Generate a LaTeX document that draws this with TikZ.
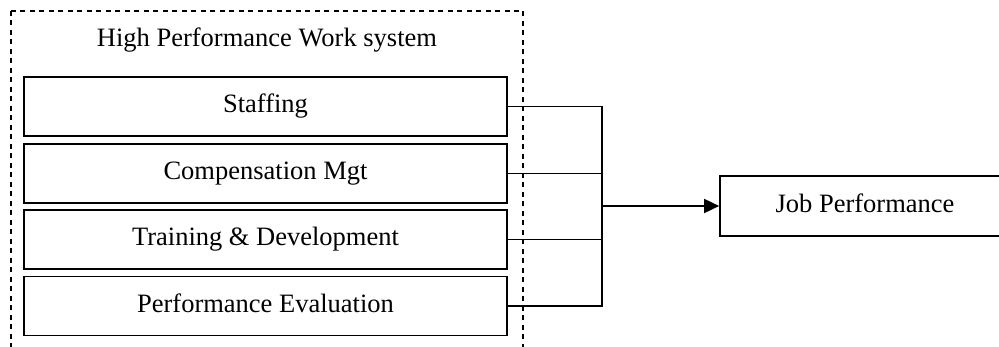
\documentclass[tikz,border=0pt]{standalone}
\usepackage{fontspec}
\setmainfont{Liberation Serif}
\usetikzlibrary{arrows.meta}
\begin{document}
\begin{tikzpicture}[x=1pt,y=-1pt,
  every node/.style={font=\fontsize{26.5pt}{30pt}\selectfont, text height=18.5pt, text depth=5.8pt, inner sep=0pt},
  hbox/.style={draw, line width=1.7pt, minimum width=483pt, minimum height=59pt},
  jbox/.style={draw, line width=1.7pt, minimum width=290pt, minimum height=60pt},
  conn/.style={line width=1.5pt},
  frame/.style={dash pattern=on 5pt off 4.5pt, line width=1.4pt}]
\clip (0,0) rectangle (999,347);
\fill[white] (0,0) rectangle (999,347);
% dashed frame
\draw[frame] (11,11) rectangle (523,380);
\node[anchor=base] (title) at (267,47) {High Performance Work system};
% HPWS boxes
\node[hbox] (s1) at (265.5,106.5) {Staffing};
\node[hbox] (s2) at (265.5,173.5) {Compensation Mgt};
\node[hbox] (s3) at (265.5,239.5) {Training \& Development};
\node[hbox] (s4) at (265.5,306) {Performance Evaluation};
% outcome
\node[jbox] (job) at (865,206) {Job Performance};
% bus
\coordinate (bus) at (602,206);
\draw[conn] (s1.east) -- (s1.east -| bus) -- (s4.east -| bus) -- (s4.east);
\draw[conn] (s2.east) -- (s2.east -| bus);
\draw[conn] (s3.east) -- (s3.east -| bus);
\draw[line width=1.8pt, -{Triangle[length=15pt,width=14pt]}] (job.west -| bus) -- (job.west);
\end{tikzpicture}
\end{document}
